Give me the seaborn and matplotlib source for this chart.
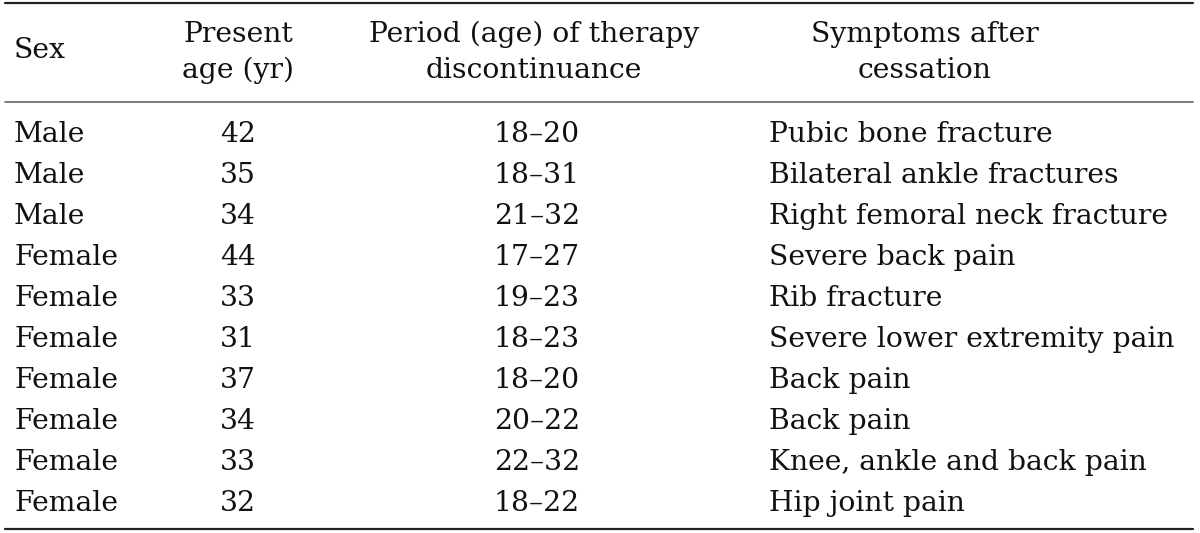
import matplotlib
matplotlib.use('Agg')
import matplotlib.pyplot as plt
import seaborn as sns

# table contents
header_sex = 'Sex'
header_age = ['Present', 'age (yr)']
header_period = ['Period (age) of therapy', 'discontinuance']
header_symptoms = ['Symptoms after', 'cessation']

sex = ['Male', 'Male', 'Male', 'Female', 'Female', 'Female', 'Female', 'Female', 'Female', 'Female']
present_age = [42, 35, 34, 44, 33, 31, 37, 34, 33, 32]
period = ['18–20', '18–31', '21–32', '17–27', '19–23', '18–23', '18–20', '20–22', '22–32', '18–22']
symptoms = ['Pubic bone fracture', 'Bilateral ankle fractures', 'Right femoral neck fracture',
            'Severe back pain', 'Rib fracture', 'Severe lower extremity pain', 'Back pain',
            'Back pain', 'Knee, ankle and back pain', 'Hip joint pain']

sns.set_theme(style='white')
plt.rcParams['font.family'] = ['DejaVu Serif']

fig = plt.figure(figsize=(12, 5.33), dpi=100)
ax = fig.add_axes([0, 0, 1, 1])
ax.set_xlim(0, 1200)
ax.set_ylim(533, 0)
ax.axis('off')

fs = 20.3
txt = dict(fontsize=fs, color='#111111', va='baseline')

# rules
ax.axhline(3, xmin=5 / 1200, xmax=1193 / 1200, color='#222222', lw=1.6)
ax.axhline(102, xmin=5 / 1200, xmax=1193 / 1200, color='#666666', lw=1.2)
ax.axhline(529, xmin=5 / 1200, xmax=1193 / 1200, color='#222222', lw=1.6)

# header
x_sex, x_age, x_period, x_sym_head, x_sym = 14, 238, 534, 925, 769
ax.text(x_sex, 58, header_sex, ha='left', **txt)
for k, yb in enumerate([42, 78]):
    ax.text(x_age, yb, header_age[k], ha='center', **txt)
    ax.text(x_period, yb, header_period[k], ha='center', **txt)
    ax.text(x_sym_head, yb, header_symptoms[k], ha='center', **txt)

# body rows
for i in range(len(sex)):
    yb = 142 + i * 41
    ax.text(x_sex, yb, sex[i], ha='left', **txt)
    ax.text(x_age, yb, str(present_age[i]), ha='center', **txt)
    ax.text(x_period + 3, yb, period[i], ha='center', **txt)
    ax.text(x_sym, yb, symptoms[i], ha='left', **txt)

fig.savefig('out.png', dpi=100)
